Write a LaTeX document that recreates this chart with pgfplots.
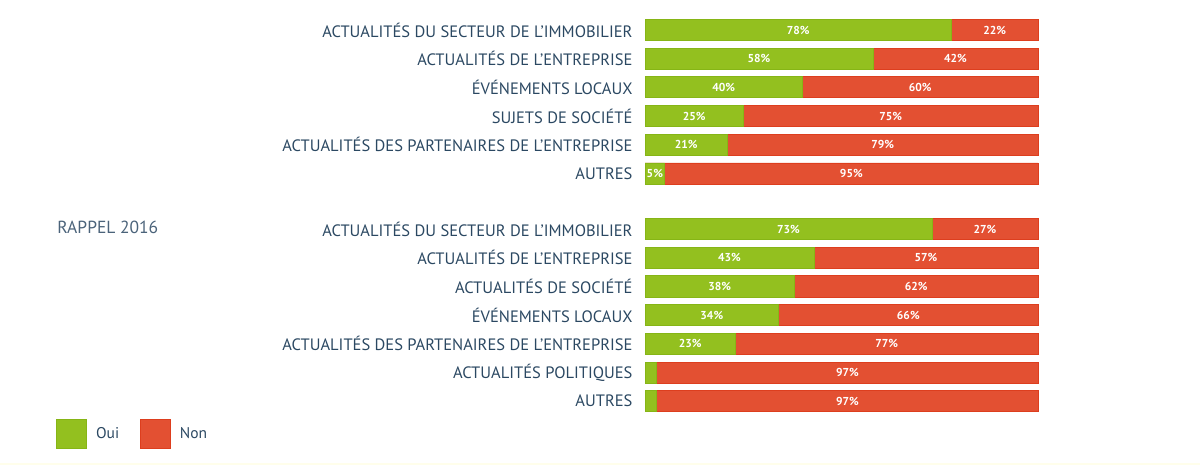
\documentclass[border=0pt]{standalone}
\usepackage{fontspec}
\setmainfont{PT Sans}
\usepackage{pgfplots}
\pgfplotsset{compat=1.18}
\definecolor{oui}{HTML}{93C01F}
\definecolor{ouiline}{HTML}{86B516}
\definecolor{non}{HTML}{E35032}
\definecolor{nonline}{HTML}{DD3E1E}
\definecolor{txt}{HTML}{2B4862}
\begin{document}
\begin{tikzpicture}
\begin{axis}[
    scale only axis,
    width=1200pt, height=465pt,
    xmin=-164.12, xmax=141.22,
    ymin=0, ymax=465,
    y dir=reverse,
    axis line style={draw=none},
    tick style={draw=none},
    xtick=\empty,
    ytick={30,58.7,87.4,116.1,144.8,173.5,229,257.7,286.4,315.1,343.8,372.5,401.2},
    yticklabels={ACTUALITÉS DU SECTEUR DE L’IMMOBILIER, ACTUALITÉS DE L’ENTREPRISE, ÉVÉNEMENTS LOCAUX, SUJETS DE SOCIÉTÉ, ACTUALITÉS DES PARTENAIRES DE L’ENTREPRISE, AUTRES,
        ACTUALITÉS DU SECTEUR DE L’IMMOBILIER, ACTUALITÉS DE L’ENTREPRISE, ACTUALITÉS DE SOCIÉTÉ, ÉVÉNEMENTS LOCAUX, ACTUALITÉS DES PARTENAIRES DE L’ENTREPRISE, ACTUALITÉS POLITIQUES, AUTRES},
    yticklabel style={anchor=east, xshift=636pt, font=\fontsize{16.5}{16.5}\selectfont, text=txt},
    legend style={at={(0.0467,0.0677)}, anchor=west, draw=none, fill=none,
        legend columns=2, font=\fontsize{15.5}{15.5}\selectfont, text=txt,
        column sep=8pt, inner sep=0pt, nodes={inner sep=1pt},
        /tikz/every even column/.append style={column sep=20pt}},
    legend image code/.code={\draw[#1] (0pt,-14.5pt) rectangle (30pt,14.5pt);},
]
\addlegendimage{fill=oui, draw=ouiline, line width=0.8pt}
\addlegendentry{Oui}
\addlegendimage{fill=non, draw=nonline, line width=0.8pt}
\addlegendentry{Non}

% Non (full bar, 100 %)
\addplot[xbar, bar width=21, fill=non, draw=nonline, line width=0.8pt, forget plot] coordinates {
    (100,30) (100,58.7) (100,87.4) (100,116.1) (100,144.8) (100,173.5)
    (100,229) (100,257.7) (100,286.4) (100,315.1) (100,343.8) (100,372.5) (100,401.2)
};
% Oui
\addplot[xbar, bar width=21, fill=oui, draw=ouiline, line width=0.8pt, forget plot] coordinates {
    (78,30) (58,58.7) (40,87.4) (25,116.1) (21,144.8) (5,173.5)
    (73,229) (43,257.7) (38,286.4) (34,315.1) (23,343.8) (3,372.5) (3,401.2)
};
% labels, centred in the segments
\addplot[draw=none, mark=none, forget plot, nodes near coords, point meta=explicit symbolic,
    nodes near coords style={anchor=center, text=white, font=\fontsize{11.5}{11.5}\selectfont\bfseries}] coordinates {
    (39,30) [78\%] (89,30) [22\%]
    (29,58.7) [58\%] (79,58.7) [42\%]
    (20,87.4) [40\%] (70,87.4) [60\%]
    (12.5,116.1) [25\%] (62.5,116.1) [75\%]
    (10.5,144.8) [21\%] (60.5,144.8) [79\%]
    (2.5,173.5) [5\%] (52.5,173.5) [95\%]
    (36.5,229) [73\%] (86.5,229) [27\%]
    (21.5,257.7) [43\%] (71.5,257.7) [57\%]
    (19,286.4) [38\%] (69,286.4) [62\%]
    (17,315.1) [34\%] (67,315.1) [66\%]
    (11.5,343.8) [23\%] (61.5,343.8) [77\%]
    (51.5,372.5) [97\%]
    (51.5,401.2) [97\%]
};
\node[anchor=west, text=txt!85, font=\fontsize{17.5}{17.5}\selectfont, inner sep=0pt] at (axis cs:-149.6,227) {RAPPEL 2016};
\fill[yellow!8] (axis cs:-164.12,463) rectangle (axis cs:141.22,465);
\end{axis}
\end{tikzpicture}
\end{document}
